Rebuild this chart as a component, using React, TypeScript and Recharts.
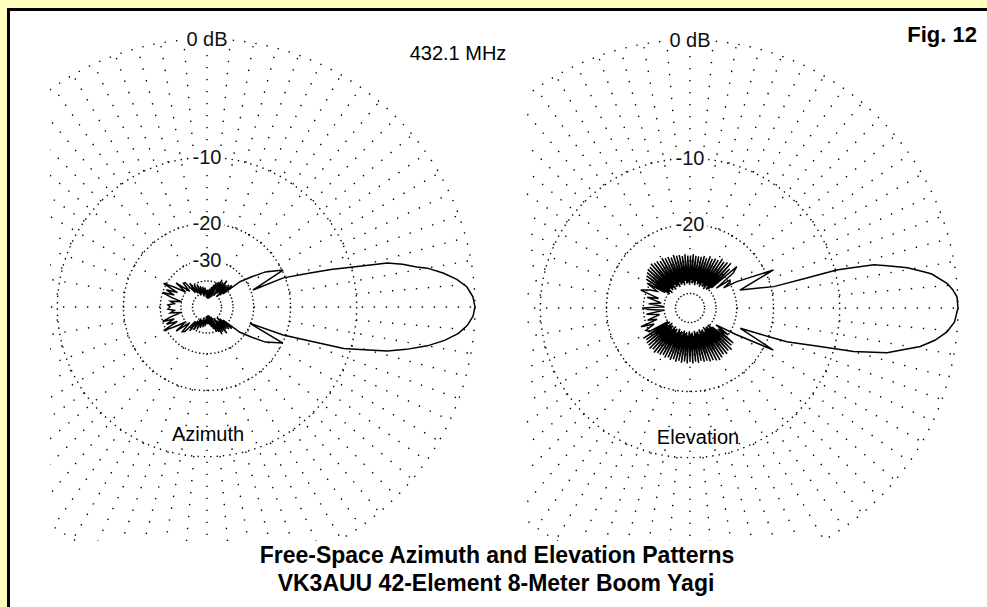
import React from "react";
import { RadarChart, Radar, PolarGrid, PolarAngleAxis, PolarRadiusAxis } from "recharts";

// Azimuth pattern, degrees counter-clockwise from the boom direction, gain in dB
const azimuthAngles = [
  0, 2.2, 4.4, 6.3, 8.2, 10, 10.8, 12.3, 13.7, 15.3, 16.8, 18.2, 20.9, 20.3, 25.9, 31, 34, 37.5,
  39, 41, 43, 45, 47, 49, 51, 53, 55, 57, 59, 61, 63, 65, 67, 69, 71, 73, 75, 77, 79, 81, 83, 85, 87,
  90, 93, 96, 99, 102, 105, 108, 111, 114, 117, 120, 123, 126, 129, 132, 135, 138, 142, 145, 149,
  151.5, 154, 157, 160, 162, 165, 168, 171, 174, 177,
  180, 183, 186, 189, 192, 195, 198, 200, 203, 206, 208.5, 211, 215, 218, 222, 225, 228, 231, 234,
  237, 240, 243, 246, 249, 252, 255, 258, 261, 264, 267, 270, 273, 275, 277, 279, 281, 283, 285,
  287, 289, 291, 293, 295, 297, 299, 301, 303, 305, 307, 309, 311, 313, 315, 317, 319, 321, 322.5,
  326, 329, 334.6, 339.2, 339.8, 341.9, 343.1, 344.5, 346.3, 348, 350, 352, 354, 356, 358,
];
const azimuthGain = [
  0, -0.12, -0.47, -1.1, -2.0, -3.1, -3.9, -5.0, -6.3, -9.8, -12.5, -15.5, -20.4, -29.2, -19.8, -23.5, -27.5, -32,
  -44, -36, -47, -37, -50, -38, -46, -36, -48, -38, -52, -37, -45, -39, -55, -40, -47, -42, -58, -44, -50, -46, -60, -47, -55,
  -47, -58, -45, -52, -44, -55, -43, -50, -41, -52, -40, -48, -38, -46, -36, -35.7, -42, -33, -40, -33,
  -29, -36, -31, -35, -30, -34, -40, -34, -36, -33,
  -34, -33, -36, -34, -40, -34, -30, -35, -31, -36, -29, -33, -40, -33, -42, -35, -36, -46, -38,
  -48, -40, -52, -41, -50, -43, -55, -44, -52, -45, -58, -47, -55, -47, -60, -46, -50, -44, -58,
  -42, -47, -40, -55, -39, -45, -37, -52, -38, -48, -36, -46, -38, -50, -37, -47, -36, -44, -32,
  -27.5, -23.5, -19.9, -30.3, -20.5, -15, -10.8, -9.0, -6.3, -4.7, -3.1, -1.9, -1.0, -0.45, -0.12,
];

// Elevation pattern
const elevationAngles = [
  0, 2.4, 4, 5.5, 8, 8.8, 10.5, 12.1, 13.2, 14, 14.5, 14.4, 14.3, 19.8, 24.5, 29.4, 31, 33, 35, 37, 39, 41.5, 43,
  44.5, 46, 47.5, 49, 50.5, 52, 53.5, 55, 56.5, 58, 59.5, 61, 62.5, 64, 65.5, 67, 68.5, 70, 71.5, 73, 74.5, 76,
  77.5, 79, 80.5, 82, 83.5, 85, 86.5, 88, 89.5, 91, 92.5, 94, 95.5, 97, 98.5, 100, 101.5, 103, 104.5, 106, 107.5,
  109, 110.5, 112, 113.5, 115, 116.5, 118, 119.5, 121, 122.5, 124, 125.5, 127, 128.5, 130, 131.5, 133, 134.5,
  136, 137.5, 139, 140.5, 142, 143.5, 145, 146.5, 148,
  150, 153, 156, 160, 163, 166, 170, 174, 177, 180,
  182, 185, 188, 192, 196, 199, 201, 204, 207, 210,
  211.5, 213, 214.5, 216, 217.5, 219, 220.5, 222, 223.5, 225, 226.5, 228, 229.5, 231, 232.5, 234, 235.5, 237,
  238.5, 240, 241.5, 243, 244.5, 246, 247.5, 249, 250.5, 252, 253.5, 255, 256.5, 258, 259.5, 261, 262.5, 264,
  265.5, 267, 268.5, 270, 271.5, 273, 274.5, 276, 277.5, 279, 280.5, 282, 283.5, 285, 286.5, 288, 289.5, 291,
  292.5, 294, 295.5, 297, 298.5, 300, 301.5, 303, 304.5, 306, 307.5, 309, 310.5, 312, 313.5, 315, 316.5, 318,
  319.5, 321, 323, 325, 327, 330, 333.2, 338, 339.5, 340.8, 343.5, 345.1, 347.2, 350.5, 352.5, 354.7, 357,
];
const elevationGain = [
  0, -0.05, -0.3, -0.64, -1.6, -2.15, -3.3, -4.9, -6.0, -8.3, -9.8, -14, -19.4, -27.8, -18.4, -27.6, -33, -29.5, -29.3, -36, -27, -25, -38,
  -27, -40, -25.5, -41, -26, -39, -26.5, -42, -26, -40, -27, -41, -27, -39, -27.5, -42, -27, -40, -28, -41, -27.5, -39,
  -28, -42, -28, -40, -28, -41, -27.5, -39, -28, -42, -28, -40, -27.5, -41, -28, -39, -27.5, -42, -27.5, -40, -27,
  -41, -27.5, -39, -27, -42, -27, -40, -26.5, -41, -27, -39, -26.5, -42, -26.5, -40, -26, -41, -26.5,
  -39, -26.5, -42, -27, -40, -27.5, -41, -28, -38,
  -29, -34, -31, -28, -36, -31, -38, -32, -40, -30,
  -32, -40, -31, -37, -31, -35, -28, -33, -29, -30,
  -40, -27, -41, -27.5, -39, -27, -42, -27, -40, -26.5, -41, -27, -39, -26.5, -42, -27, -40, -27,
  -41, -27.5, -39, -27, -42, -27.5, -40, -27, -41, -27.5, -39, -27, -42, -27.5, -40, -27, -41, -27.5,
  -39, -27, -42, -27.5, -40, -27, -41, -27.5, -39, -27, -42, -27.5, -40, -27, -41, -27, -39, -26.5,
  -42, -26.5, -40, -26, -41, -26, -39, -26, -42, -26.5, -40, -26, -41, -26.5, -39, -26, -41, -27,
  -38, -27, -35, -30, -37, -28, -18.1, -27.4, -22, -16.5, -11.7, -7.9, -4.85, -2.37, -1.4, -0.65, -0.2,
];

const majorRingsDb = [-10, -20, -30, -40, -50];
const azimuthRingLabels = [0, -10, -20, -30];
const elevationRingLabels = [0, -10, -20];

const OUTER = 268;
const SIZE = 600;
const CENTER = 300;
const FONT = "'Liberation Sans', Arial, sans-serif";

// ARRL log-periodic scale (0.89 per 2 dB), 0 dB on the outer ring
const arrl = (db: number) => Math.pow(0.89, -db / 2);
const arrlToDb = (r: number) => Math.round((-2 * Math.log(r)) / Math.log(0.89));

const ringDash: Record<number, string> = {
  [-10]: "1.4 5",
  [-20]: "1.4 3.2",
  [-30]: "1.4 2.4",
  [-40]: "1.4 2",
  [-50]: "1.4 2",
};

// dotted radial line that only starts showing dots beyond startR
const spokeDash = (startR: number) => {
  const parts = [`0 ${startR}`];
  for (let r = startR; r < OUTER + 12; r += 12) parts.push("1.4 10.6");
  return parts.join(" ");
};

const spokes5 = Array.from({ length: 36 }, (_, i) => 5 + i * 10);
const spokes10 = Array.from({ length: 36 }, (_, i) => i * 10).filter((a) => a % 30 !== 0);
const spokes30 = Array.from({ length: 12 }, (_, i) => i * 30);

const RingLabel = (props: any) => {
  const { x, y, payload } = props;
  const db = arrlToDb(payload.value);
  const text = db === 0 ? "0 dB" : String(db);
  const w = db === 0 ? 44 : 34;
  return (
    <g>
      <rect x={x - w / 2} y={y - 9} width={w} height={18} fill="#fff" />
      <text x={x} y={y + 7} textAnchor="middle" fontSize={20} fontFamily={FONT} fill="#111">
        {text}
      </text>
    </g>
  );
};

function PolarPattern({ angles, gains, labels }: { angles: number[]; gains: number[]; labels: number[] }) {
  const rows = angles.map((a, i) => ({ angle: a, r: arrl(gains[i]) }));
  return (
    <RadarChart
      width={SIZE}
      height={SIZE}
      cx={CENTER}
      cy={CENTER}
      innerRadius={0}
      outerRadius={OUTER}
      startAngle={0}
      endAngle={360}
      data={rows}
      margin={{ top: 0, right: 0, bottom: 0, left: 0 }}
    >
      <PolarGrid gridType="circle" radialLines={false} polarAngles={[]} polarRadius={[OUTER]} stroke="#000" strokeWidth={1.4} strokeDasharray="1.4 10" />
      {majorRingsDb.map((db) => (
        <PolarGrid
          key={db}
          gridType="circle"
          radialLines={false}
          polarAngles={[]}
          polarRadius={[arrl(db) * OUTER]}
          stroke="#000"
          strokeWidth={1.4}
          strokeDasharray={ringDash[db]}
        />
      ))}
      <PolarGrid gridType="circle" polarRadius={[]} polarAngles={spokes5} stroke="#000" strokeWidth={1.4} strokeDasharray={spokeDash(arrl(-10) * OUTER)} />
      <PolarGrid gridType="circle" polarRadius={[]} polarAngles={spokes10} stroke="#000" strokeWidth={1.4} strokeDasharray={spokeDash(arrl(-20) * OUTER)} />
      <PolarGrid gridType="circle" polarRadius={[]} polarAngles={spokes30} stroke="#000" strokeWidth={1.4} strokeDasharray={spokeDash(arrl(-30) * OUTER)} />
      <PolarAngleAxis type="number" dataKey="angle" domain={[0, 360]} tick={false} axisLine={false} tickLine={false} />
      <PolarRadiusAxis
        type="number"
        domain={[0, 1]}
        angle={90}
        ticks={labels.map(arrl) as any}
        tick={RingLabel}
        axisLine={false}
        tickLine={false}
      />
      <Radar dataKey="r" stroke="#000" strokeWidth={1.5} fill="none" fillOpacity={0} dot={false} isAnimationActive={false} />
    </RadarChart>
  );
}

export default function App() {
  return (
    <div style={{ position: "absolute", left: 0, top: 0, width: 987, height: 607, background: "#FFFFC0", overflow: "hidden" }}>
      <div
        style={{
          position: "absolute",
          left: 7,
          top: 8,
          right: 0,
          bottom: 0,
          background: "#fff",
          borderTop: "3px solid #000",
          borderLeft: "3px solid #000",
        }}
      />
      <div style={{ position: "absolute", left: 50, top: 20, width: 430, height: 521, overflow: "hidden" }}>
        <div style={{ position: "absolute", left: -143, top: -13 }}>
          <PolarPattern angles={azimuthAngles} gains={azimuthGain} labels={azimuthRingLabels} />
        </div>
      </div>
      <div style={{ position: "absolute", left: 526, top: 20, width: 461, height: 521, overflow: "hidden" }}>
        <div style={{ position: "absolute", left: -136, top: -12 }}>
          <PolarPattern angles={elevationAngles} gains={elevationGain} labels={elevationRingLabels} />
        </div>
      </div>
      <svg width={987} height={607} style={{ position: "absolute", left: 0, top: 0, pointerEvents: "none" }}>
        <g fontFamily={FONT} fill="#000">
          <text x={458} y={60} textAnchor="middle" fontSize={20}>432.1 MHz</text>
          <text x={977} y={42} textAnchor="end" fontSize={22} fontWeight="bold">Fig. 12</text>
          <text x={208} y={441} textAnchor="middle" fontSize={20}>Azimuth</text>
          <text x={698} y={444} textAnchor="middle" fontSize={20}>Elevation</text>
          <text x={497} y={563} textAnchor="middle" fontSize={23} fontWeight="bold">Free-Space Azimuth and Elevation Patterns</text>
          <text x={496} y={591} textAnchor="middle" fontSize={23} fontWeight="bold">VK3AUU 42-Element 8-Meter Boom Yagi</text>
        </g>
      </svg>
    </div>
  );
}
